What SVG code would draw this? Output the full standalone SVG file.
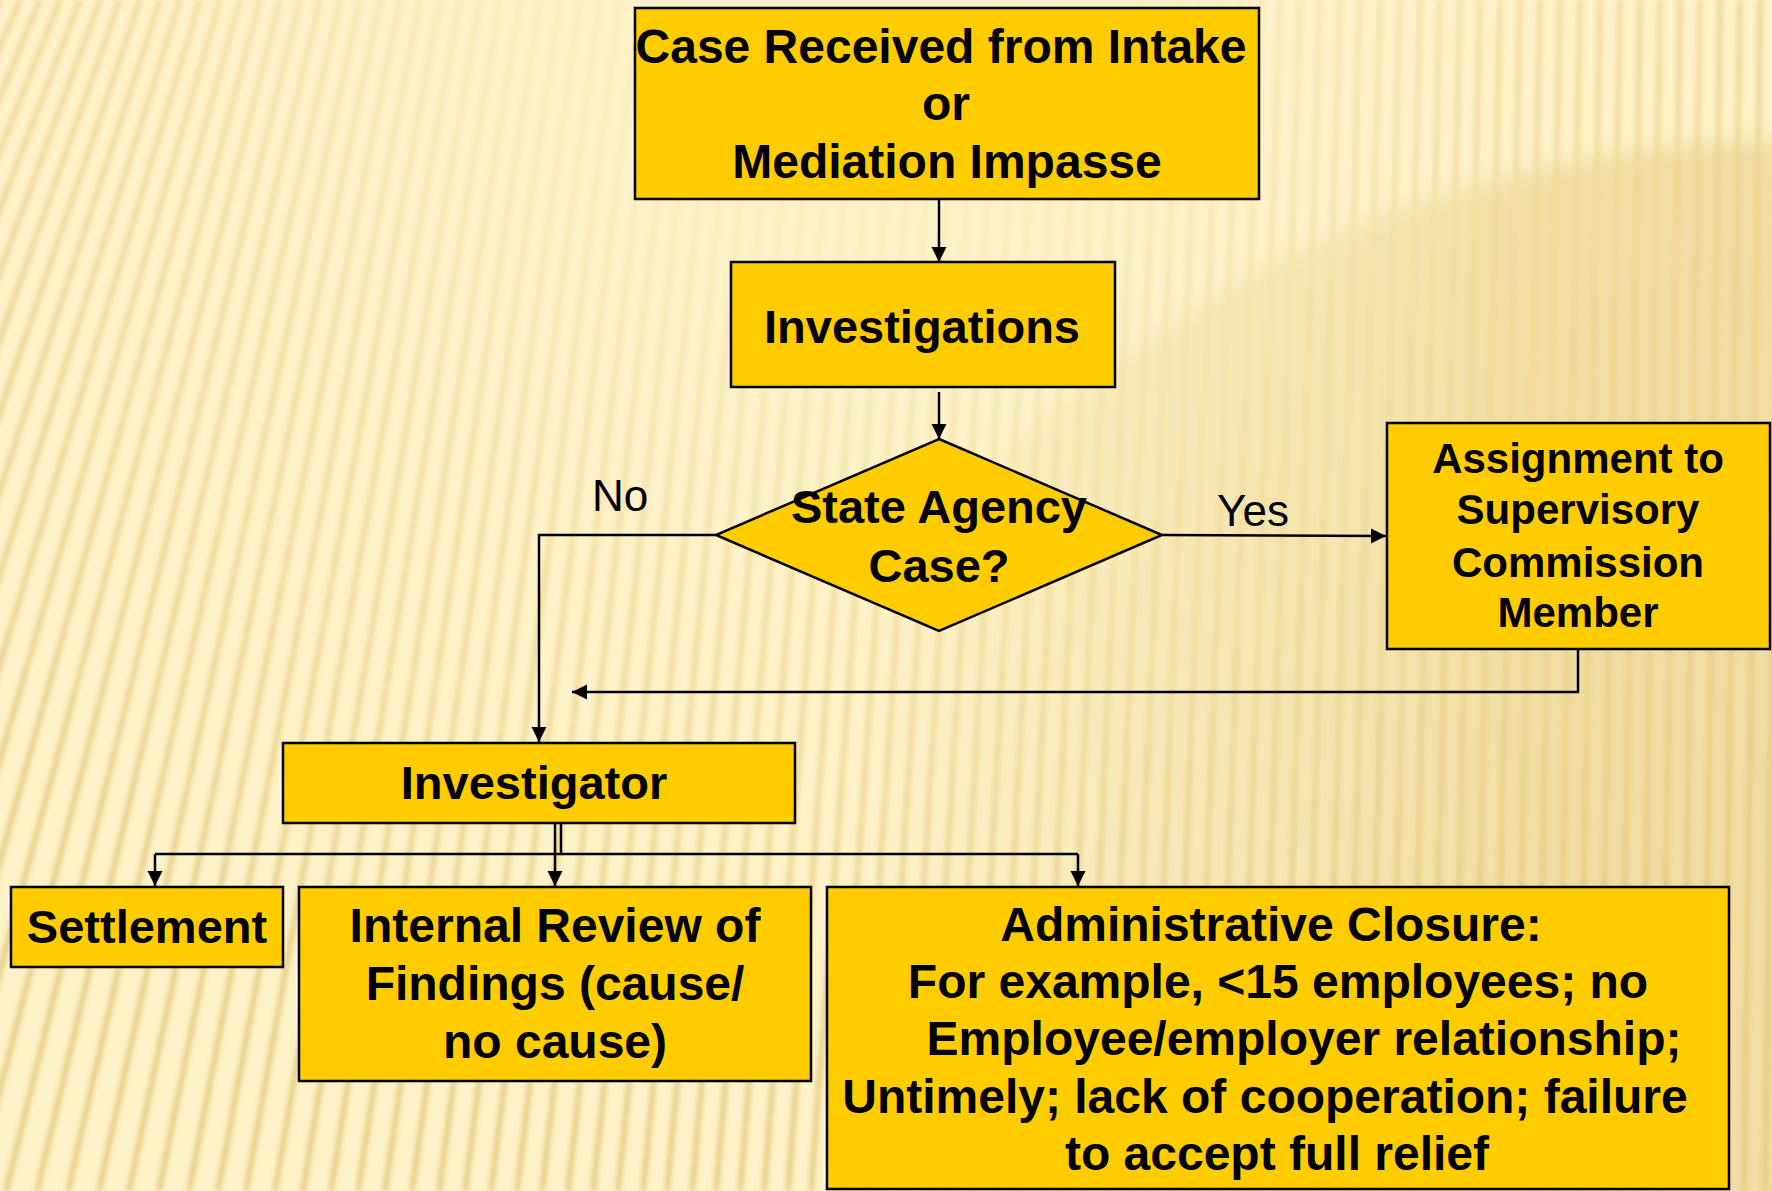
<svg xmlns="http://www.w3.org/2000/svg" width="1772" height="1191" viewBox="0 0 1772 1191">
<defs>
<style>
.box{fill:#FFCC00;stroke:#000;stroke-width:2.5}
.t{font-family:"Liberation Sans",Arial,sans-serif;font-weight:bold;font-size:48px;fill:#000;text-anchor:middle}
.lbl{font-family:"Liberation Sans",Arial,sans-serif;font-size:44px;fill:#000;text-anchor:middle}
.c{fill:none;stroke:#000;stroke-width:2.5}
.ca{fill:none;stroke:#000;stroke-width:2.5;marker-end:url(#ah)}
</style>
<marker id="ah" markerUnits="userSpaceOnUse" markerWidth="16" markerHeight="16" refX="15" refY="7.5" orient="auto">
<path d="M0,0 L15,7.5 L0,15 z" fill="#000"/>
</marker>
<radialGradient id="sg" gradientUnits="userSpaceOnUse" cx="850" cy="-80" r="1250">
<stop offset="0" stop-color="#FDF2C8"/>
<stop offset="0.25" stop-color="#FBEEC0"/>
<stop offset="0.55" stop-color="#F2DE9E"/>
<stop offset="1" stop-color="#E4CB80"/>
</radialGradient>
<linearGradient id="dk" gradientUnits="userSpaceOnUse" x1="850" y1="0" x2="1550" y2="0">
<stop offset="0" stop-color="#E8D18C" stop-opacity="0"/>
<stop offset="1" stop-color="#E8D18C" stop-opacity="0.6"/>
</linearGradient>
<filter id="bl" x="-10%" y="-10%" width="120%" height="120%"><feGaussianBlur stdDeviation="2"/></filter>
<filter id="bl2" x="-20%" y="-20%" width="140%" height="140%"><feGaussianBlur stdDeviation="10"/></filter>
</defs>
<g id="background">
<rect x="0" y="0" width="1772" height="1191" fill="#FDF2C8"/>
<circle cx="1800" cy="1300" r="1160" fill="url(#dk)" filter="url(#bl2)"/>
<path filter="url(#bl)" stroke="url(#sg)" stroke-width="6" fill="none" opacity="0.85" d="M0 0L-536 1191M20 0L-495 1191M40 0L-455 1191M60 0L-415 1191M80 0L-377 1191M100 0L-339 1191M120 0L-302 1191M140 0L-265 1191M160 0L-229 1191M180 0L-194 1191M200 0L-159 1191M220 0L-125 1191M240 0L-92 1191M260 0L-59 1191M280 0L-26 1191M300 0L6 1191M320 0L37 1191M340 0L68 1191M360 0L99 1191M380 0L129 1191M400 0L159 1191M420 0L189 1191M440 0L218 1191M460 0L246 1191M480 0L275 1191M500 0L303 1191M520 0L331 1191M540 0L358 1191M560 0L385 1191M580 0L412 1191M600 0L439 1191M620 0L465 1191M640 0L491 1191M660 0L517 1191M680 0L542 1191M700 0L568 1191M720 0L593 1191M740 0L618 1191M760 0L643 1191M780 0L667 1191M800 0L692 1191M820 0L716 1191M840 0L740 1191M860 0L764 1191M880 0L788 1191M900 0L811 1191M920 0L835 1191M940 0L858 1191M960 0L881 1191M980 0L904 1191M1000 0L927 1191M1020 0L950 1191M1040 0L973 1191M1060 0L996 1191M1080 0L1018 1191M1100 0L1041 1191M1120 0L1063 1191M1140 0L1085 1191M1160 0L1107 1191M1180 0L1129 1191M1200 0L1151 1191M1220 0L1173 1191M1240 0L1195 1191M1260 0L1217 1191M1280 0L1239 1191M1300 0L1260 1191M1320 0L1282 1191M1340 0L1303 1191M1360 0L1325 1191M1380 0L1346 1191M1400 0L1367 1191M1420 0L1389 1191M1440 0L1410 1191M1460 0L1431 1191M1480 0L1452 1191M1500 0L1473 1191M1520 0L1494 1191M1540 0L1515 1191M1560 0L1536 1191M1580 0L1557 1191M1600 0L1578 1191M1620 0L1599 1191M1640 0L1620 1191M1660 0L1641 1191M1680 0L1661 1191M1700 0L1682 1191M1720 0L1703 1191M1740 0L1723 1191M1760 0L1744 1191M1780 0L1765 1191"/>
</g>
<g id="connectors">
<path class="ca" d="M939 199 L939 262"/>
<path class="ca" d="M939 392 L939 439"/>
<path class="ca" d="M716 535 L539 535 L539 742"/>
<text class="lbl" x="620" y="511">No</text>
<path class="ca" d="M1162 535 L1386 536"/>
<text class="lbl" x="1253" y="526">Yes</text>
<path class="ca" d="M1578 649 L1578 692 L572 692"/>
<path class="c" d="M561 823 L561 854"/>
<path class="c" d="M555 823 L555 854"/>
<path class="c" d="M155 854 L1078 854"/>
<path class="ca" d="M155 854 L155 886"/>
<path class="ca" d="M555 854 L555 886"/>
<path class="ca" d="M1078 854 L1078 886"/>
</g>
<g id="n-case-received">
<rect class="box" x="635" y="8" width="624" height="191"/>
<text class="t" x="941" y="63">Case Received from Intake</text>
<text class="t" x="946" y="120">or</text>
<text class="t" x="947" y="178">Mediation Impasse</text>
</g>
<g id="n-investigations">
<rect class="box" x="731" y="262" width="384" height="125"/>
<text class="t" x="922" y="343" style="font-size:47px">Investigations</text>
</g>
<g id="n-state-agency">
<polygon class="box" points="939,439 1162,535 939,631 716,535"/>
<text class="t" x="939" y="523" style="font-size:47px">State Agency</text>
<text class="t" x="939" y="582" style="font-size:47px">Case?</text>
</g>
<g id="n-assignment">
<rect class="box" x="1387" y="423" width="383" height="226"/>
<text class="t" x="1578" y="473" style="font-size:42px">Assignment to</text>
<text class="t" x="1578" y="524" style="font-size:42px">Supervisory</text>
<text class="t" x="1578" y="577" style="font-size:42px">Commission</text>
<text class="t" x="1578" y="627" style="font-size:42px">Member</text>
</g>
<g id="n-investigator">
<rect class="box" x="283" y="743" width="512" height="80"/>
<text class="t" x="534" y="799" style="font-size:47px">Investigator</text>
</g>
<g id="n-settlement">
<rect class="box" x="11" y="887" width="272" height="80"/>
<text class="t" x="147" y="943" style="font-size:47px">Settlement</text>
</g>
<g id="n-internal-review">
<rect class="box" x="299" y="887" width="512" height="194"/>
<text class="t" x="555" y="942">Internal Review of</text>
<text class="t" x="555" y="1000">Findings (cause/</text>
<text class="t" x="555" y="1058">no cause)</text>
</g>
<g id="n-admin-closure">
<rect class="box" x="827" y="887" width="902" height="302"/>
<text class="t" x="1271" y="941">Administrative Closure:</text>
<text class="t" x="1278" y="998">For example, &lt;15 employees; no</text>
<text class="t" x="1304" y="1055">Employee/employer relationship;</text>
<text class="t" x="1265" y="1113">Untimely; lack of cooperation; failure</text>
<text class="t" x="1277" y="1170">to accept full relief</text>
</g>
</svg>
